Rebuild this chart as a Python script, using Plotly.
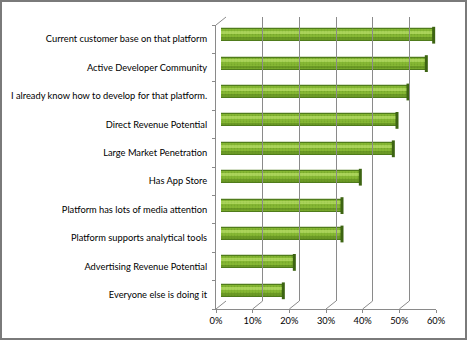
import plotly.graph_objects as go

# ---------------- data ----------------
categories = [
    "Current customer base on that platform",
    "Active Developer Community",
    "I already know how to develop for that platform.",
    "Direct Revenue Potential",
    "Large Market Penetration",
    "Has App Store",
    "Platform has lots of media attention",
    "Platform supports analytical tools",
    "Advertising Revenue Potential",
    "Everyone else is doing it",
]
values = [58, 56, 51, 48, 47, 38, 33, 33, 20, 17]  # percent
x_ticks = [0, 10, 20, 30, 40, 50, 60]

# ---------------- geometry (pixels) ----------------
W, H = 469, 341
FX0, FX1 = 216, 436      # front plane x (0% .. 60%)
FY0, FY1 = 25, 309       # front plane y (top .. bottom)
DX, DY = 10, 8           # depth offset of the back wall
XMAX = 60

def px(x):
    return x / W

def py(y):
    return 1 - y / H

n = len(categories)
idx = list(range(n))
units_per_px = XMAX / (FX1 - FX0)

GRID = "#8a8a8a"
FONT = "Lato"

fig = go.Figure()

# cylinder body (mid depth)
fig.add_trace(go.Bar(
    x=values, y=idx, orientation="h", width=0.42,
    marker=dict(
        color="#86b834",
        line=dict(color="#4f7b1b", width=1.2),
        pattern=dict(shape=".", fgcolor="#6a9a22", size=3, solidity=0.3, fillmode="overlay"),
    ),
    xaxis="x", yaxis="y", hoverinfo="skip", showlegend=False,
))
# light highlight strip (upper part of the cylinder)
fig.add_trace(go.Bar(
    x=values, y=idx, orientation="h", width=0.11, offset=-0.15,
    marker=dict(color="#abd45a", line=dict(width=0),
                pattern=dict(shape=".", fgcolor="#94c247", size=3, solidity=0.3, fillmode="overlay")),
    xaxis="x", yaxis="y", hoverinfo="skip", showlegend=False,
))
# darker strip (lower part of the cylinder)
fig.add_trace(go.Bar(
    x=values, y=idx, orientation="h", width=0.09, offset=0.08,
    marker=dict(color="#6c9a26", line=dict(width=0),
                pattern=dict(shape=".", fgcolor="#5a8a1c", size=3, solidity=0.3, fillmode="overlay")),
    xaxis="x", yaxis="y", hoverinfo="skip", showlegend=False,
))
# end-cap rims
fig.add_trace(go.Scatter(
    x=values, y=idx, mode="markers",
    marker=dict(symbol="line-ns", size=12, line=dict(color="#3d6412", width=3)),
    xaxis="x", yaxis="y", hoverinfo="skip", showlegend=False,
))

# invisible traces to hold the front / back axes
fig.add_trace(go.Scatter(x=[None], y=[None], mode="markers", xaxis="x2", yaxis="y2",
                         showlegend=False, hoverinfo="skip"))
fig.add_trace(go.Scatter(x=[None], y=[None], mode="markers", xaxis="x3", yaxis="y3",
                         showlegend=False, hoverinfo="skip"))

shapes = []
# floor depth lines
for v in x_ticks:
    shapes.append(dict(
        type="line", xref="x2", yref="paper",
        x0=v, x1=v + DX * units_per_px, y0=py(FY1), y1=py(FY1 - DY),
        line=dict(color=GRID, width=1),
    ))
# top-left wall edge
shapes.append(dict(
    type="line", xref="x2", yref="paper",
    x0=0, x1=DX * units_per_px, y0=py(FY0), y1=py(FY0 - DY),
    line=dict(color=GRID, width=1),
))
# outer border
shapes.append(dict(
    type="rect", xref="paper", yref="paper",
    x0=px(1), x1=px(466), y0=py(339), y1=py(1),
    line=dict(color="#7a7a7a", width=2), fillcolor="rgba(0,0,0,0)",
))

common_y = dict(range=[n - 0.5, -0.5], fixedrange=True, zeroline=False,
                showgrid=False, automargin=False)

fig.update_layout(
    width=W, height=H, autosize=False,
    margin=dict(l=0, r=0, t=0, b=0, pad=0, autoexpand=False),
    paper_bgcolor="white", plot_bgcolor="rgba(0,0,0,0)",
    font=dict(family=FONT, size=9.3, color="#000000"),
    barmode="overlay", bargap=0,
    shapes=shapes,
    # bars: mid depth
    xaxis=dict(domain=[px(FX0 + DX / 2), px(FX1 + DX / 2)], range=[0, XMAX],
               visible=False, anchor="y", automargin=False),
    yaxis=dict(domain=[py(FY1 - DY / 2), py(FY0 - DY / 2)], visible=False,
               anchor="x", **common_y),
    # front frame with labels
    xaxis2=dict(domain=[px(FX0), px(FX1)], range=[0, XMAX], anchor="y2",
                tickvals=x_ticks, ticktext=[f"{v}%" for v in x_ticks],
                showline=True, linecolor=GRID, linewidth=1,
                ticks="outside", ticklen=3, tickcolor=GRID,
                showgrid=False, zeroline=False, automargin=False),
    yaxis2=dict(domain=[py(FY1), py(FY0)], anchor="x2",
                tickvals=idx, ticktext=categories,
                showline=True, linecolor=GRID, linewidth=1,
                ticks="", ticklabelstandoff=6,
                minor=dict(tickvals=[i - 0.5 for i in range(n + 1)], ticks="outside",
                           ticklen=3, tickcolor=GRID, showgrid=False),
                **common_y),
    # back wall
    xaxis3=dict(domain=[px(FX0 + DX), px(FX1 + DX)], range=[0, XMAX], anchor="y3",
                tickvals=x_ticks, showticklabels=False, ticks="",
                showgrid=True, gridcolor=GRID, gridwidth=1, zeroline=False,
                showline=False, automargin=False),
    yaxis3=dict(domain=[py(FY1 - DY), py(FY0 - DY)], anchor="x3", visible=False,
                **common_y),
)

fig.write_html("out.html")
